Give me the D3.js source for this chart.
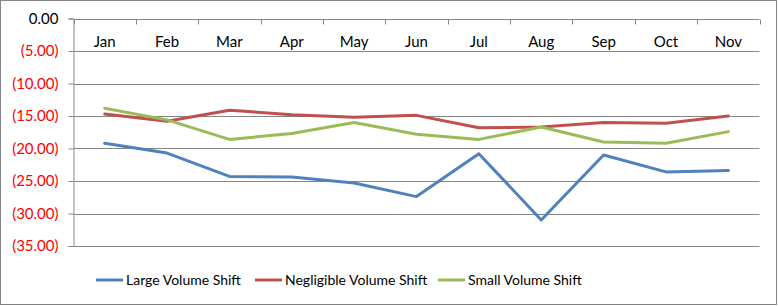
<!DOCTYPE html>
<html><head><meta charset="utf-8">
<script src="https://cdn.jsdelivr.net/npm/d3@7"></script>
<style>body{margin:0;background:#fff}svg{display:block}</style>
</head><body>
<script>
const months = ["Jan","Feb","Mar","Apr","May","Jun","Jul","Aug","Sep","Oct","Nov"];
const largeShift = [-19.2,-20.7,-24.3,-24.4,-25.3,-27.4,-20.8,-31.0,-21.0,-23.6,-23.4];
const negligibleShift = [-14.7,-15.8,-14.1,-14.8,-15.2,-14.9,-16.8,-16.7,-16.0,-16.1,-15.0];
const smallShift = [-13.8,-15.6,-18.6,-17.7,-16.0,-17.8,-18.6,-16.7,-19.0,-19.2,-17.4];
const seriesNames = ["Large Volume Shift","Negligible Volume Shift","Small Volume Shift"];
const seriesColors = ["#4F81BD","#C0504D","#9BBB59"];
const yTicks = [0,-5,-10,-15,-20,-25,-30,-35];

const W = 778, H = 306;
const svg = d3.select("body").append("svg").attr("width", W).attr("height", H);
svg.append("rect").attr("x",0.5).attr("y",0.5).attr("width",W-2).attr("height",H-2)
  .attr("fill","#fff").attr("stroke","#868686");

const pL = 73.5, pR = 759.5, pT = 18.5, pB = 246;
const x = d3.scaleBand().domain(months).range([pL, pR]);
const y = d3.scaleLinear().domain([0,-35]).range([pT, pB]);
const font = "Lato, 'Liberation Sans', Arial, sans-serif";
const fs = "14px";

// gridlines
svg.append("g").selectAll("line").data(yTicks.filter(d=>d!==0)).join("line")
  .attr("x1", pL).attr("x2", pR)
  .attr("y1", d=>Math.round(y(d))+0.5).attr("y2", d=>Math.round(y(d))+0.5)
  .attr("stroke","#868686").attr("stroke-width",1);

// y axis
const yAxis = d3.axisLeft(y).tickValues(yTicks).tickSize(5).tickPadding(10)
  .tickFormat(d => d === 0 ? "0.00" : "(" + Math.abs(d).toFixed(2) + ")");
const yg = svg.append("g").attr("transform",`translate(${pL},0)`).call(yAxis);
yg.select(".domain").attr("stroke","#868686");
yg.selectAll(".tick line").attr("stroke","#868686");
yg.selectAll(".tick text").attr("font-family",font).attr("font-size","15px")
  .attr("fill", d => d < 0 ? "#FF0000" : "#000");

// x axis at top (value 0), ticks pointing down at category boundaries
const xg = svg.append("g").attr("transform",`translate(0,${Math.round(y(0))+0.5})`);
xg.append("line").attr("x1",pL).attr("x2",pR).attr("stroke","#868686");
const bounds = months.map(m => x(m) + x.bandwidth()).concat([pL]);
xg.selectAll("line.tk").data(bounds).join("line").attr("class","tk")
  .attr("x1", d=>Math.round(d)+0.5).attr("x2", d=>Math.round(d)+0.5)
  .attr("y1",0).attr("y2",5).attr("stroke","#868686");
xg.selectAll("text").data(months).join("text")
  .attr("x", d => x(d) + x.bandwidth()/2).attr("y", 27)
  .attr("text-anchor","middle").attr("font-family",font).attr("font-size","15px")
  .attr("fill","#000").text(d=>d);

// lines
const data = [largeShift, negligibleShift, smallShift];
const line = d3.line().x((d,i)=>x(months[i]) + x.bandwidth()/2).y(d=>y(d));
svg.append("g").selectAll("path").data(data).join("path")
  .attr("d", line).attr("fill","none")
  .attr("stroke",(d,i)=>seriesColors[i]).attr("stroke-width",3)
  .attr("stroke-linejoin","round").attr("stroke-linecap","round");

// legend
const legendX = [96, 255, 438];
const lg = svg.append("g").selectAll("g").data(seriesNames).join("g")
  .attr("transform",(d,i)=>`translate(${legendX[i]},280)`);
lg.append("line").attr("x1",0).attr("x2",27).attr("y1",0).attr("y2",0)
  .attr("stroke",(d,i)=>seriesColors[i]).attr("stroke-width",3);
lg.append("text").attr("x",30).attr("y",5).attr("font-family",font).attr("font-size",fs)
  .attr("fill","#000").text(d=>d);
</script>
</body></html>
